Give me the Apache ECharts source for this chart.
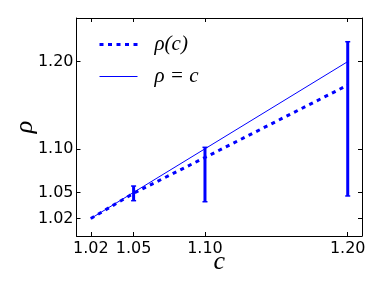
<!DOCTYPE html>
<html><head><meta charset="utf-8">
<script src="https://cdn.jsdelivr.net/npm/echarts@6/dist/echarts.min.js"></script>
<style>html,body{margin:0;padding:0;background:#fff}#c{width:382px;height:287px}</style>
</head><body><div id="c"></div>
<script>
const cVals = [1.02, 1.05, 1.10, 1.20];
const rhoMean = [1.020, 1.049, 1.090, 1.173];
const errC = [1.05, 1.10, 1.20];
const errLow = [1.0405, 1.0393, 1.0459];
const errHigh = [1.0573, 1.1017, 1.2228];
const identC = [1.02, 1.20];
const xTicks = [1.02, 1.05, 1.10, 1.20];
const yTicks = [1.02, 1.05, 1.10, 1.20];

const blue = '#0000ff';
const tickFont = {fontFamily: 'DejaVu Sans', fontSize: 16, color: '#000'};
const fmt = v => Number(v).toFixed(2);

function xAxisDef(pos, showLabel) {
  return {
    type: 'value', min: 1.01, max: 1.21, position: pos,
    axisLine: {show: true, onZero: false, lineStyle: {color: '#000', width: 1}},
    axisTick: {show: true, inside: true, length: 4, customValues: xTicks, lineStyle: {color: '#000'}},
    axisLabel: Object.assign({show: showLabel, customValues: xTicks, formatter: fmt, margin: 5}, tickFont),
    splitLine: {show: false},
    name: showLabel ? 'c' : '', nameLocation: 'middle', nameGap: 13, nameMoveOverlap: false,
    nameTextStyle: {fontFamily: 'Liberation Serif', fontStyle: 'italic', fontSize: 26, color: '#000'}
  };
}
function yAxisDef(pos, showLabel) {
  return {
    type: 'value', min: 1.00, max: 1.25, position: pos,
    axisLine: {show: true, onZero: false, lineStyle: {color: '#000', width: 1}},
    axisTick: {show: true, inside: true, length: 4, customValues: yTicks, lineStyle: {color: '#000'}},
    axisLabel: Object.assign({show: showLabel, customValues: yTicks, formatter: fmt, margin: 3}, tickFont),
    splitLine: {show: false},
    name: showLabel ? 'ρ' : '', nameLocation: 'middle', nameGap: 38, nameRotate: 90, nameMoveOverlap: false,
    nameTextStyle: {fontFamily: 'Liberation Serif', fontStyle: 'italic', fontSize: 26, color: '#000'}
  };
}

const chart = echarts.init(document.getElementById('c'), null, {renderer: 'canvas'});
chart.setOption({
  animation: false,
  grid: {left: 76.5, right: 20, top: 18, bottom: 51, containLabel: false, outerBoundsMode: 'none'},
  xAxis: [xAxisDef('bottom', true), xAxisDef('top', false)],
  yAxis: [yAxisDef('left', true), yAxisDef('right', false)],
  legend: {
    left: 93, top: 29, orient: 'vertical', itemWidth: 38, itemHeight: 20, itemGap: 11,
    data: [
      {name: 'ρ(c)', lineStyle: {width: 3}},
      {name: 'ρ = c', lineStyle: {width: 1}}
    ],
    itemStyle: {opacity: 0},
    textStyle: {fontFamily: 'Liberation Serif', fontStyle: 'italic', fontSize: 21, color: '#000', padding: [0, 0, 0, 12]}
  },
  series: [
    {
      name: 'ρ(c)', type: 'line', symbol: 'none',
      data: cVals.map((c, i) => [c, rhoMean[i]]),
      lineStyle: {color: blue, width: 3, type: [4, 4.5], cap: 'butt'},
      itemStyle: {color: blue}, z: 3
    },
    {
      name: 'ρ = c', type: 'line', symbol: 'none',
      data: identC.map(c => [c, c]),
      lineStyle: {color: blue, width: 1, type: 'solid'},
      itemStyle: {color: blue}, z: 2
    },
    {
      name: 'err', type: 'custom',
      data: errC.map((c, i) => [c, errLow[i], errHigh[i]]),
      renderItem: function (params, api) {
        const lo = api.coord([api.value(0), api.value(1)]);
        const hi = api.coord([api.value(0), api.value(2)]);
        const st = {stroke: blue, lineWidth: 3};
        const cs = {stroke: blue, lineWidth: 1.5};
        return {type: 'group', children: [
          {type: 'line', shape: {x1: lo[0], y1: lo[1], x2: hi[0], y2: hi[1]}, style: st},
          {type: 'line', shape: {x1: hi[0] - 2.5, y1: hi[1], x2: hi[0] + 2.5, y2: hi[1]}, style: cs},
          {type: 'line', shape: {x1: lo[0] - 2.5, y1: lo[1], x2: lo[0] + 2.5, y2: lo[1]}, style: cs}
        ]};
      },
      z: 4
    }
  ]
});
</script></body></html>
